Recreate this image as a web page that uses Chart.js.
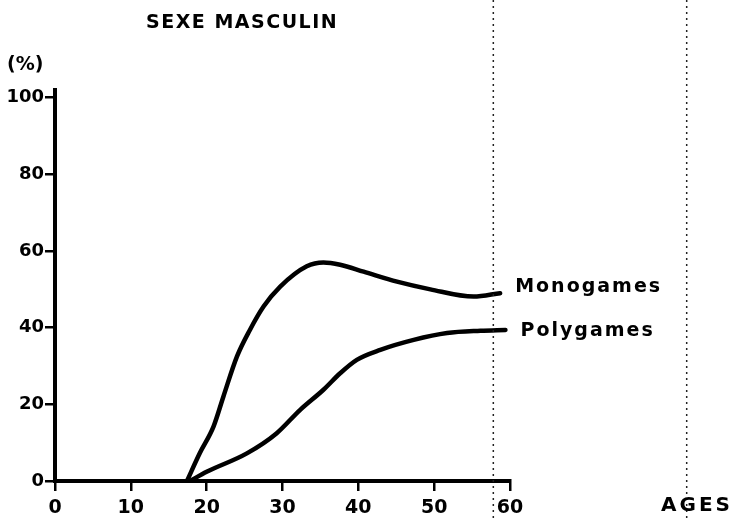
<!DOCTYPE html>
<html>
<head>
<meta charset="utf-8">
<script src="https://cdn.jsdelivr.net/npm/chart.js@4"></script>
<style>
  html, body { margin: 0; padding: 0; background: #fff; }
  #wrap { width: 737px; height: 519px; }
</style>
</head>
<body>
<div id="wrap"><canvas id="c" width="737" height="519"></canvas></div>
<script>
// ages (x) and share in % (y)
const monoAges = [17.4, 19.1, 20.9, 22.2, 24.0, 25.7, 27.5, 29.7, 33.2, 35.4, 37.6, 40.7, 45.1, 49.5, 55.2, 58.7];
const monoVals = [0, 7.3, 14.2, 22, 32.5, 39.4, 45.5, 50.7, 56, 57, 56.4, 54.6, 52, 50, 48.1, 49];

const polyAges = [17.8, 20.0, 25.3, 29.2, 32.3, 35.4, 37.6, 39.8, 42.9, 47.3, 51.7, 56.1, 59.4];
const polyVals = [0, 2.4, 7.2, 12.4, 18.5, 23.8, 28.1, 31.6, 34.2, 36.8, 38.6, 39.2, 39.4];

const seriesNames = ['Monogames', 'Polygames'];
const xTicks = [0, 10, 20, 30, 40, 50, 60];
const yTicks = [0, 20, 40, 60, 80, 100];

// dotted scan guide lines, in age units
const guideAges = [57.8, 83.3];

const toPoints = (xs, ys) => xs.map((x, i) => ({ x: x, y: ys[i] }));

const FONT = '"DejaVu Sans", sans-serif';

const decor = {
  id: 'decor',
  afterDraw(chart) {
    const c = chart.ctx;
    const xs = chart.scales.x, ys = chart.scales.y;
    c.save();
    // dotted vertical lines from the scan
    c.strokeStyle = '#222';
    c.lineWidth = 1.5;
    c.setLineDash([2, 4]);
    guideAges.forEach(a => {
      const px = xs.getPixelForValue(a);
      c.beginPath();
      c.moveTo(px, 0);
      c.lineTo(px, chart.height);
      c.stroke();
    });
    c.setLineDash([]);

    c.fillStyle = '#000';
    c.textBaseline = 'middle';
    c.textAlign = 'left';
    c.font = 'bold 19px ' + FONT;
    c.letterSpacing = '1.5px';
    c.fillText('SEXE MASCULIN', 146, 23);
    c.letterSpacing = '0px';
    c.fillText('(%)', 7, 65);

    c.font = 'bold 20px ' + FONT;
    c.letterSpacing = '3px';
    c.fillText('AGES', 661, 506);

    // series labels at the right end of each curve
    c.font = 'bold 19px ' + FONT;
    c.letterSpacing = '2px';
    chart.data.datasets.forEach((ds, i) => {
      const last = ds.data[ds.data.length - 1];
      const px = xs.getPixelForValue(last.x) + 15;
      const py = ys.getPixelForValue(last.y) - (i === 0 ? 6 : -1);
      c.fillText(ds.label, px, py);
    });
    c.restore();
  }
};

const axisCommon = {
  border: { display: true, color: '#000', width: 4 },
  grid: { drawOnChartArea: false, drawTicks: true, tickLength: 10, color: '#000', lineWidth: 2.5 },
};

new Chart(document.getElementById('c'), {
  type: 'line',
  data: {
    datasets: [
      { label: seriesNames[0], data: toPoints(monoAges, monoVals) },
      { label: seriesNames[1], data: toPoints(polyAges, polyVals) }
    ]
  },
  options: {
    responsive: false,
    animation: false,
    layout: { padding: { top: 90, right: 227, left: 0, bottom: 0 } },
    elements: {
      line: { borderColor: '#000', borderWidth: 4.5, cubicInterpolationMode: 'monotone', borderCapStyle: 'round', borderJoinStyle: 'round' },
      point: { radius: 0 }
    },
    plugins: { legend: { display: false }, tooltip: { enabled: false } },
    scales: {
      x: {
        ...axisCommon,
        type: 'linear',
        min: 0, max: 60,
        afterBuildTicks: s => { s.ticks = xTicks.map(v => ({ value: v })); },
        afterFit: s => { s.height = 38; },
        ticks: { color: '#000', padding: 6, font: { family: FONT, size: 19, weight: 'bold' }, maxRotation: 0 }
      },
      y: {
        ...axisCommon,
        min: 0, max: 102,
        afterBuildTicks: s => { s.ticks = yTicks.map(v => ({ value: v })); },
        afterFit: s => { s.width = 55; },
        ticks: { color: '#000', padding: 1, font: { family: FONT, size: 18, weight: 'bold' } }
      }
    }
  },
  plugins: [decor]
});
</script>
</body>
</html>
